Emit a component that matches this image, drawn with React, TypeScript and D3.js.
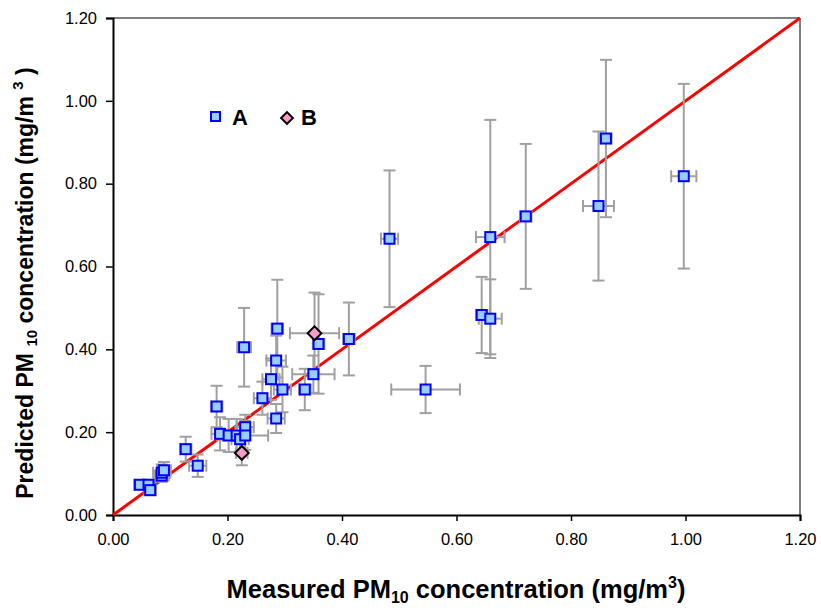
import React, { useEffect, useRef } from 'react';
import * as d3 from 'd3';

// series A: measured vs predicted, with error bars
const measuredA = [0.047, 0.062, 0.065, 0.085, 0.085, 0.089, 0.127, 0.148, 0.181, 0.187, 0.202, 0.216, 0.222, 0.231, 0.231, 0.229, 0.261, 0.276, 0.285, 0.285, 0.287, 0.296, 0.335, 0.35, 0.359, 0.412, 0.483, 0.546, 0.644, 0.659, 0.659, 0.721, 0.848, 0.861, 0.997];
const predictedA = [0.073, 0.073, 0.06, 0.095, 0.102, 0.108, 0.159, 0.119, 0.262, 0.196, 0.192, 0.192, 0.183, 0.212, 0.192, 0.405, 0.282, 0.328, 0.233, 0.373, 0.45, 0.303, 0.303, 0.34, 0.413, 0.425, 0.667, 0.303, 0.483, 0.474, 0.671, 0.721, 0.746, 0.909, 0.818];
const xErrA = [0.01, 0.01, 0.01, 0.012, 0.015, 0.012, 0.01, 0.015, 0.01, 0.015, 0.02, 0.02, 0.015, 0.015, 0.04, 0.012, 0.015, 0.015, 0.015, 0.017, 0.01, 0.015, 0.01, 0.037, 0.01, 0.01, 0.015, 0.06, 0.01, 0.02, 0.025, 0.01, 0.027, 0.01, 0.022];
const yErrA = [0.01, 0.012, 0.012, 0.015, 0.02, 0.02, 0.03, 0.027, 0.05, 0.04, 0.04, 0.04, 0.03, 0.03, 0.035, 0.095, 0.04, 0.05, 0.035, 0.06, 0.118, 0.055, 0.05, 0.045, 0.12, 0.088, 0.165, 0.057, 0.092, 0.095, 0.283, 0.175, 0.18, 0.19, 0.223];

// series B
const measuredB = [0.225, 0.352];
const predictedB = [0.15, 0.439];
const xErrB = [0.01, 0.043];
const yErrB = [0.03, 0.098];

const ticks = [0, 0.2, 0.4, 0.6, 0.8, 1.0, 1.2];

const W = 821;
const H = 611;
const margin = { left: 113, right: 21, top: 18, bottom: 96 };

const App = () => {
  const svgRef = useRef<SVGSVGElement>(null);

  useEffect(() => {
    const svg = d3.select(svgRef.current);
    svg.selectAll('*').remove();

    const x = d3.scaleLinear().domain([0, 1.2]).range([margin.left, W - margin.right]);
    const y = d3.scaleLinear().domain([0, 1.2]).range([H - margin.bottom, margin.top]);

    const font = 'Arial, "Liberation Sans", sans-serif';

    // top / right frame in gray
    svg.append('line').attr('x1', x(0)).attr('x2', x(1.2)).attr('y1', y(1.2)).attr('y2', y(1.2))
      .attr('stroke', '#808080').attr('stroke-width', 2);
    svg.append('line').attr('x1', x(1.2)).attr('x2', x(1.2)).attr('y1', y(0)).attr('y2', y(1.2))
      .attr('stroke', '#808080').attr('stroke-width', 2);

    // axes
    const xAxis = svg.append('g').attr('transform', `translate(0,${y(0)})`)
      .call(d3.axisBottom(x).tickValues(ticks).tickFormat(d3.format('.2f')).tickSizeOuter(0).tickSize(6).tickPadding(12));
    const yAxis = svg.append('g').attr('transform', `translate(${x(0)},0)`)
      .call(d3.axisLeft(y).tickValues(ticks).tickFormat(d3.format('.2f')).tickSizeOuter(0).tickSize(7).tickPadding(9));
    [xAxis, yAxis].forEach(g => {
      g.select('.domain').attr('stroke', '#000').attr('stroke-width', 2);
      g.selectAll('.tick line').attr('stroke', '#000').attr('stroke-width', 1.5);
      g.selectAll('.tick text').attr('font-family', font).attr('font-size', 16.5).attr('fill', '#000');
    });

    // 1:1 line
    svg.append('line').attr('x1', x(0)).attr('y1', y(0)).attr('x2', x(1.2)).attr('y2', y(1.2))
      .attr('stroke', '#ff0000').attr('stroke-width', 3);

    const cap = 6;
    const drawErrors = (mx: number[], py: number[], ex: number[], ey: number[]) => {
      const g = svg.append('g').attr('stroke', '#a0a0a0').attr('stroke-width', 2).attr('fill', 'none');
      mx.forEach((m, i) => {
        const cx = x(m), cy = y(py[i]);
        const x0 = x(m - ex[i]), x1 = x(m + ex[i]);
        const y0 = y(py[i] - ey[i]), y1 = y(py[i] + ey[i]);
        g.append('line').attr('x1', x0).attr('x2', x1).attr('y1', cy).attr('y2', cy);
        g.append('line').attr('x1', x0).attr('x2', x0).attr('y1', cy - cap).attr('y2', cy + cap);
        g.append('line').attr('x1', x1).attr('x2', x1).attr('y1', cy - cap).attr('y2', cy + cap);
        g.append('line').attr('x1', cx).attr('x2', cx).attr('y1', y0).attr('y2', y1);
        g.append('line').attr('x1', cx - cap).attr('x2', cx + cap).attr('y1', y0).attr('y2', y0);
        g.append('line').attr('x1', cx - cap).attr('x2', cx + cap).attr('y1', y1).attr('y2', y1);
      });
    };
    drawErrors(measuredA, predictedA, xErrA, yErrA);
    drawErrors(measuredB, predictedB, xErrB, yErrB);

    const sq = 10;
    svg.append('g').selectAll('rect').data(measuredA).join('rect')
      .attr('x', (d) => x(d) - sq / 2)
      .attr('y', (_, i) => y(predictedA[i]) - sq / 2)
      .attr('width', sq).attr('height', sq)
      .attr('fill', '#99ccff').attr('stroke', '#0000ff').attr('stroke-width', 2);

    const diamond = d3.symbol().type(d3.symbolSquare).size(95);
    svg.append('g').selectAll('path').data(measuredB).join('path')
      .attr('d', diamond)
      .attr('transform', (d, i) => `translate(${x(d)},${y(predictedB[i])}) rotate(45)`)
      .attr('fill', '#ff99cc').attr('stroke', '#000').attr('stroke-width', 2);

    // legend
    const leg = svg.append('g');
    leg.append('rect').attr('x', 211).attr('y', 112).attr('width', 9).attr('height', 9)
      .attr('fill', '#99ccff').attr('stroke', '#0000ff').attr('stroke-width', 2);
    leg.append('text').attr('x', 232).attr('y', 125).text('A')
      .attr('font-family', font).attr('font-weight', 'bold').attr('font-size', 22);
    leg.append('path').attr('d', d3.symbol().type(d3.symbolSquare).size(70)())
      .attr('transform', 'translate(287,118) rotate(45)')
      .attr('fill', '#ff99cc').attr('stroke', '#000').attr('stroke-width', 2);
    leg.append('text').attr('x', 301).attr('y', 125).text('B')
      .attr('font-family', font).attr('font-weight', 'bold').attr('font-size', 22);

    // x title
    const xt = svg.append('text').attr('x', 456).attr('y', 598).attr('text-anchor', 'middle')
      .attr('font-family', '"Liberation Sans Narrow", "Arial Narrow", Arial, sans-serif')
      .attr('font-weight', 'bold').attr('font-size', 25.5);
    xt.append('tspan').text('Measured PM');
    xt.append('tspan').attr('font-size', 16).attr('dy', 5).text('10');
    xt.append('tspan').attr('dy', -5).text(' concentration (mg/m');
    xt.append('tspan').attr('font-size', 16).attr('dy', -10).text('3');
    xt.append('tspan').attr('dy', 10).text(')');

    // y title
    const yt = svg.append('text').attr('transform', 'translate(33,283) rotate(-90)').attr('text-anchor', 'middle')
      .attr('font-family', font).attr('font-weight', 'bold').attr('font-size', 23);
    yt.append('tspan').text('Predicted PM   ');
    yt.append('tspan').attr('font-size', 15).attr('dy', 4).text('10');
    yt.append('tspan').attr('dy', -4).text(' concentration (mg/m   ');
    yt.append('tspan').attr('font-size', 15).attr('dy', -10).text('3');
    yt.append('tspan').attr('dy', 10).text(' )');
  }, []);

  return (
    <svg ref={svgRef} width={W} height={H} style={{ position: 'absolute', left: 0, top: 0, background: '#fff' }} />
  );
};

export default App;
